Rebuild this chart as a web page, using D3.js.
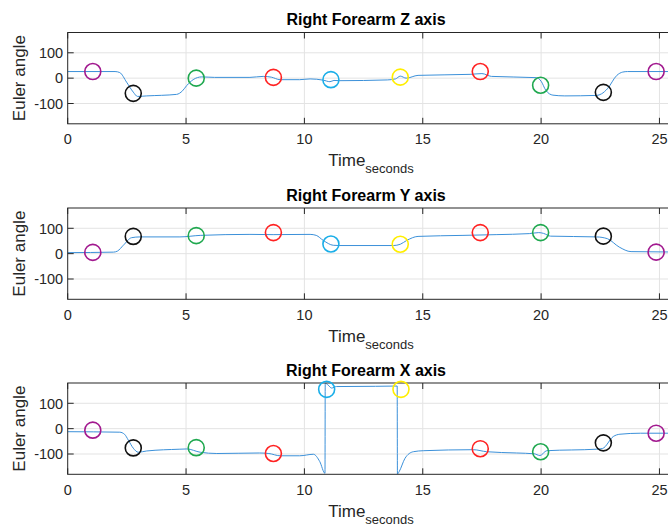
<!DOCTYPE html>
<html>
<head>
<meta charset="utf-8">
<script src="https://cdn.jsdelivr.net/npm/d3@7"></script>
<style>
  html, body { margin: 0; padding: 0; background: #fff; }
  svg { display: block; font-family: "Liberation Sans", Arial, Helvetica, sans-serif; }
</style>
</head>
<body>
<svg id="chart" width="668" height="527"></svg>
<script>
// ---- Data -------------------------------------------------------------
const titles = ["Right Forearm Z axis", "Right Forearm Y axis", "Right Forearm X axis"];
const xTicks = [0, 5, 10, 15, 20, 25];
const yTicks = [-100, 0, 100];

// Euler angle traces (time in seconds, angle in degrees)
const zTime = [0, 2.0, 2.2, 2.49, 2.77, 2.95, 3.34, 4.6, 4.85, 5.03, 5.3, 5.66, 6.2, 7.7, 8.26, 8.6, 8.97, 9.8, 10.24, 10.8, 11.08, 11.25, 11.5, 13.5, 13.85, 14.05, 14.3, 14.8, 17.0, 17.5, 17.9, 19.8, 20.0, 20.2, 20.5, 21.0, 22.35, 22.55, 22.8, 23.2, 23.45, 23.65, 27];
const zAngle = [26, 26, 22, -16, -55, -72, -70, -64, -50, -29, -6, 5, 3, 3, 7, 4, -6, -6, -3, -8, -14, -9, -10, -7, -3, 8, 0, 11, 15, 18, 7, 2, -12, -48, -67, -70, -68, -62, -42, 11, 24, 26, 26];

const yTime = [0, 1.93, 2.1, 2.35, 2.7, 3.05, 4.74, 5.6, 7.7, 8.68, 10.24, 10.5, 10.8, 11.22, 11.5, 13.76, 14.05, 14.32, 14.8, 16.7, 18.1, 19.5, 19.9, 20.1, 20.4, 22.35, 22.8, 23.3, 23.8, 27];
const yAngle = [4, 6, 10, 33, 63, 66, 66, 72, 76, 75, 76, 72, 52, 33, 32, 32, 37, 52, 68, 72, 75, 79, 83, 80, 69, 66, 59, 26, 8, 6];

const xTime = [0, 2.2, 2.4, 2.56, 2.77, 2.98, 3.34, 4.74, 5.03, 5.6, 6.3, 8.1, 8.5, 8.97, 9.8, 10.38, 10.65, 10.87, 10.88, 11.0, 11.15, 11.35, 13.0, 13.92, 13.93, 14.0, 14.25, 14.6, 15.02, 17.14, 17.7, 18.97, 19.7, 19.95, 20.24, 22.35, 22.6, 23.05, 23.33, 24.2, 27];
const xAngle = [-12, -14, -22, -45, -77, -93, -88, -81, -80, -93, -98, -96, -98, -107, -107, -101, -130, -176, 179, 172, 160, 166, 167, 168, -179, -170, -117, -91, -87, -83, -91, -96, -99, -106, -87, -81, -78, -31, -22, -18, -18];

// Event markers placed on each trace
const markerColors = ["#a2198f", "#111111", "#1fa84f", "#ff2222", "#1aaee8", "#ffee00", "#ff2222", "#1fa84f", "#111111", "#a2198f"];
const zMarkTime = [1.06, 2.77, 5.43, 8.69, 11.12, 14.05, 17.43, 19.98, 22.63, 24.86];
const zMarkAngle = [26, -60, 0, 3, -6, 4, 26, -28, -56, 26];
const yMarkTime = [1.06, 2.77, 5.43, 8.69, 11.12, 14.05, 17.43, 19.98, 22.63, 24.86];
const yMarkAngle = [5, 68, 71, 83, 38, 37, 83, 83, 69, 6];
const xMarkTime = [1.06, 2.77, 5.43, 8.69, 10.94, 14.08, 17.43, 19.98, 22.63, 24.86];
const xMarkAngle = [-6, -76, -75, -98, 155, 155, -79, -91, -56, -18];

// ---- Layout -----------------------------------------------------------
const svg = d3.select("#chart");
const left = 67.7, pxPerSec = 23.67;
const plotTops = [32.5, 208, 383];
const plotH = 91.3;
const xMax = 27;

const x = d3.scaleLinear().domain([0, xMax]).range([left, left + xMax * pxPerSec]);
const panels = [
  { title: titles[0], t: zTime, v: zAngle, mt: zMarkTime, mv: zMarkAngle },
  { title: titles[1], t: yTime, v: yAngle, mt: yMarkTime, mv: yMarkAngle },
  { title: titles[2], t: xTime, v: xAngle, mt: xMarkTime, mv: xMarkAngle }
];

const axisColor = "#262626";
const gridColor = "#e3e3e3";
const lineColor = "#3b90d9";
const tickLen = 6;

panels.forEach((p, i) => {
  const top = plotTops[i], bottom = top + plotH;
  const y = d3.scaleLinear().domain([-180, 180]).range([bottom, top]);
  const g = svg.append("g");
  const right = x.range()[1];

  // grid
  g.append("g").selectAll("line.gx").data(xTicks.filter(d => d > 0)).join("line")
    .attr("x1", d => x(d)).attr("x2", d => x(d)).attr("y1", top).attr("y2", bottom)
    .attr("stroke", gridColor).attr("stroke-width", 1);
  g.append("g").selectAll("line.gy").data(yTicks).join("line")
    .attr("x1", left).attr("x2", right).attr("y1", d => y(d)).attr("y2", d => y(d))
    .attr("stroke", gridColor).attr("stroke-width", 1);

  // clip for the trace
  const clipId = "clip" + i;
  svg.append("clipPath").attr("id", clipId).append("rect")
    .attr("x", left).attr("y", top).attr("width", right - left).attr("height", plotH);

  const pts = p.t.map((t, k) => [t, p.v[k]]);
  const line = d3.line().x(d => x(d[0])).y(d => y(d[1])).curve(d3.curveMonotoneX);
  g.append("path").attr("d", line(pts)).attr("fill", "none")
    .attr("stroke", lineColor).attr("stroke-width", 1)
    .attr("clip-path", `url(#${clipId})`);

  // ticks (inward)
  g.append("g").selectAll("line").data(xTicks).join("line")
    .attr("x1", d => x(d)).attr("x2", d => x(d)).attr("y1", bottom).attr("y2", bottom - tickLen)
    .attr("stroke", axisColor);
  g.append("g").selectAll("line").data(xTicks).join("line")
    .attr("x1", d => x(d)).attr("x2", d => x(d)).attr("y1", top).attr("y2", top + tickLen)
    .attr("stroke", axisColor);
  g.append("g").selectAll("line").data(yTicks).join("line")
    .attr("x1", left).attr("x2", left + tickLen).attr("y1", d => y(d)).attr("y2", d => y(d))
    .attr("stroke", axisColor);

  // box
  g.append("rect").attr("x", left).attr("y", top).attr("width", right - left).attr("height", plotH)
    .attr("fill", "none").attr("stroke", axisColor).attr("stroke-width", 1);

  // markers
  g.append("g").selectAll("circle").data(p.mt).join("circle")
    .attr("cx", d => x(d)).attr("cy", (d, k) => y(p.mv[k])).attr("r", 8)
    .attr("fill", "none").attr("stroke", (d, k) => markerColors[k]).attr("stroke-width", 1.6);

  // tick labels
  g.append("g").selectAll("text").data(xTicks).join("text")
    .attr("x", d => x(d)).attr("y", bottom + 20.5)
    .attr("text-anchor", "middle").attr("font-size", 14.5).attr("fill", axisColor)
    .text(d => d);
  g.append("g").selectAll("text").data(yTicks).join("text")
    .attr("x", left - 4.5).attr("y", d => y(d)).attr("dy", "0.36em")
    .attr("text-anchor", "end").attr("font-size", 14.5).attr("fill", axisColor)
    .text(d => d);

  // title
  g.append("text").attr("x", 366).attr("y", top - 7.5)
    .attr("text-anchor", "middle").attr("font-size", 16).attr("font-weight", "bold")
    .attr("fill", "#000").text(p.title);

  // axis labels
  const xl = g.append("text").attr("x", 371).attr("y", bottom + 42.5)
    .attr("text-anchor", "middle").attr("fill", axisColor);
  xl.append("tspan").attr("font-size", 17).text("Time");
  xl.append("tspan").attr("font-size", 13).attr("dy", 7).text("seconds");

  g.append("text")
    .attr("transform", `translate(${25},${(top + bottom) / 2}) rotate(-90)`)
    .attr("text-anchor", "middle").attr("font-size", 17).attr("fill", axisColor)
    .text("Euler angle");
});
</script>
</body>
</html>
